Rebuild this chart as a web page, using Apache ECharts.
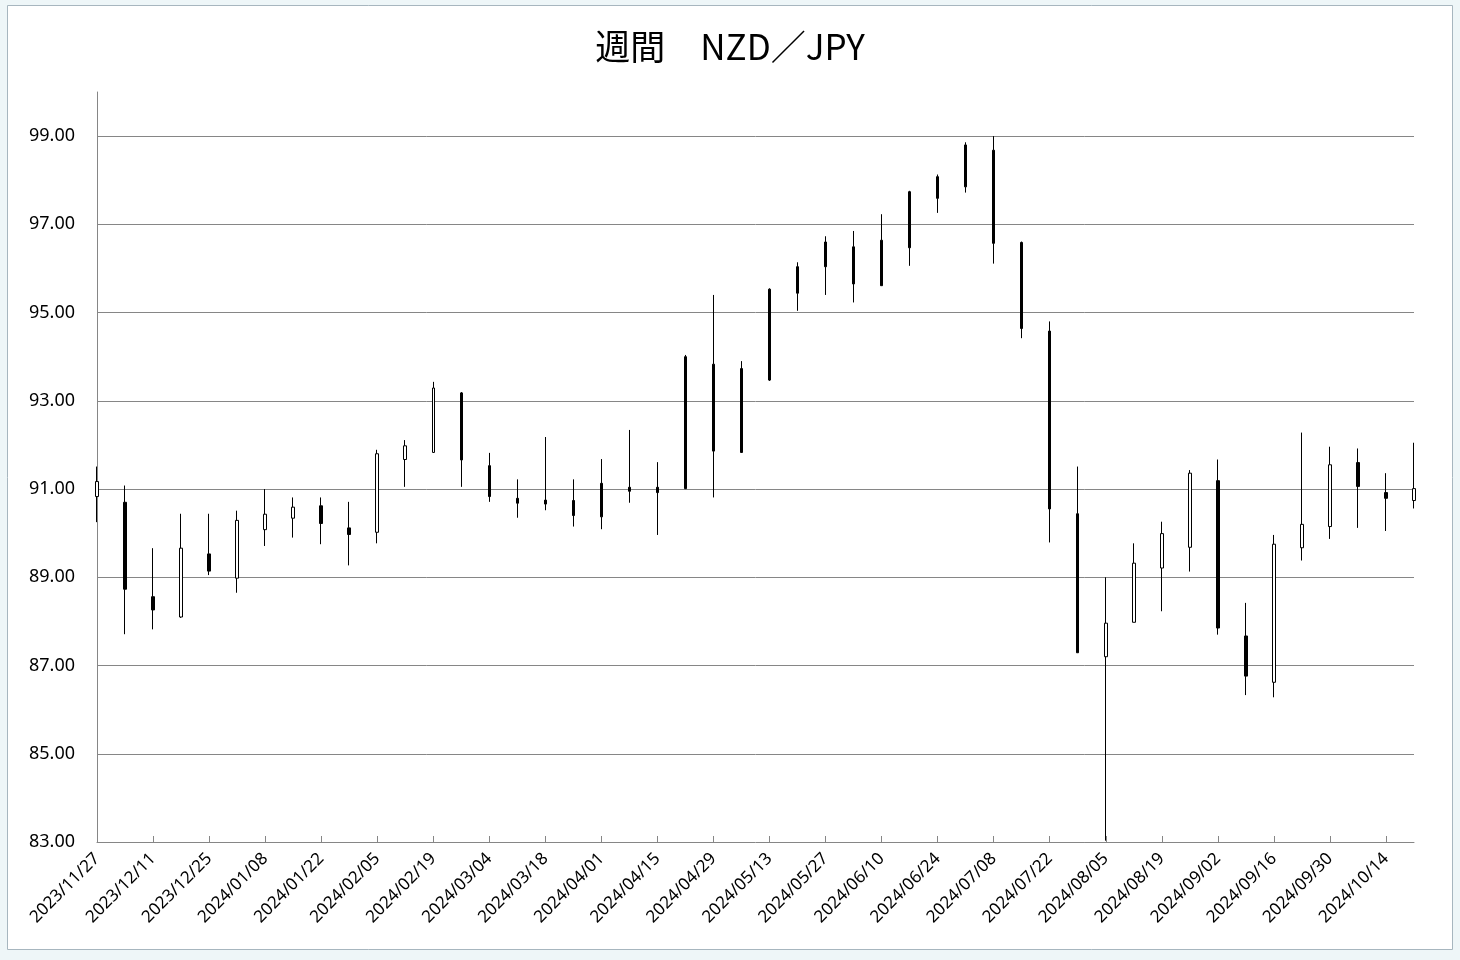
<!DOCTYPE html>
<html>
<head>
<meta charset="utf-8">
<script src="https://cdn.jsdelivr.net/npm/echarts@6/dist/echarts.min.js"></script>
<style>
html,body{margin:0;padding:0;background:#fff;}
#chart{width:1460px;height:960px;}
</style>
</head>
<body>
<div id="chart"></div>
<script>
// Weekly NZD/JPY candles (week start dates)
const categories = [
  '2023/11/27','2023/12/04','2023/12/11','2023/12/18','2023/12/25',
  '2024/01/01','2024/01/08','2024/01/15','2024/01/22','2024/01/29',
  '2024/02/05','2024/02/12','2024/02/19','2024/02/26','2024/03/04',
  '2024/03/11','2024/03/18','2024/03/25','2024/04/01','2024/04/08',
  '2024/04/15','2024/04/22','2024/04/29','2024/05/06','2024/05/13',
  '2024/05/20','2024/05/27','2024/06/03','2024/06/10','2024/06/17',
  '2024/06/24','2024/07/01','2024/07/08','2024/07/15','2024/07/22',
  '2024/07/29','2024/08/05','2024/08/12','2024/08/19','2024/08/26',
  '2024/09/02','2024/09/09','2024/09/16','2024/09/23','2024/09/30',
  '2024/10/07','2024/10/14','2024/10/21'
];
const openValues = [
  90.83, 90.70, 88.56, 88.10, 89.53, 88.98, 90.08, 90.34, 90.62, 90.12,
  90.02, 91.67, 91.83, 93.18, 91.53, 90.79, 90.75, 90.74, 90.37, 91.04,
  91.04, 91.01, 93.83, 91.83, 93.47, 95.44, 96.04, 96.49, 95.61, 96.47,
  97.59, 97.85, 98.68, 96.59, 94.58, 90.44, 87.20, 87.98, 89.21, 89.68,
  91.19, 87.67, 86.62, 89.67, 90.15, 91.60, 90.92, 90.74
];
const closeValues = [
  91.17, 88.73, 88.26, 89.66, 89.14, 90.29, 90.43, 90.59, 90.22, 89.97,
  91.80, 91.98, 93.29, 91.66, 90.83, 90.68, 90.66, 90.40, 91.13, 90.95,
  90.92, 94.00, 91.86, 93.73, 95.53, 96.04, 96.60, 95.65, 96.64, 97.74,
  98.08, 98.80, 96.57, 94.64, 90.55, 87.29, 87.96, 89.32, 89.99, 91.36,
  87.85, 86.76, 89.75, 90.20, 91.55, 91.06, 90.79, 91.01
];
const lowValues = [
  90.25, 87.71, 87.82, 88.08, 89.05, 88.65, 89.71, 89.90, 89.75, 89.27,
  89.77, 91.05, 91.82, 91.05, 90.71, 90.35, 90.52, 90.15, 90.09, 90.69,
  89.96, 91.00, 90.81, 91.82, 93.45, 95.04, 95.40, 95.23, 95.61, 96.06,
  97.26, 97.72, 96.11, 94.42, 89.79, 87.29, 83.03, 87.98, 88.23, 89.13,
  87.70, 86.33, 86.28, 89.38, 89.87, 90.12, 90.05, 90.56
];
const highValues = [
  91.51, 91.08, 89.66, 90.44, 90.44, 90.51, 91.00, 90.81, 90.81, 90.71,
  91.89, 92.11, 93.43, 93.20, 91.82, 91.22, 92.18, 91.22, 91.68, 92.34,
  91.61, 94.04, 95.40, 93.90, 95.55, 96.14, 96.73, 96.85, 97.23, 97.76,
  98.13, 98.86, 99.00, 96.61, 94.80, 91.51, 89.00, 89.77, 90.26, 91.43,
  91.67, 88.42, 89.96, 92.28, 91.96, 91.92, 91.36, 92.05
];
const yTicks = { min: 83, max: 100, step: 2 };

// style: weeks drawn as solid narrow bars in the reference (index range)
const solidFrom = 16, solidTo = 31;

const candleData = categories.map((c, i) => {
  const v = [openValues[i], closeValues[i], lowValues[i], highValues[i]];
  if (i >= solidFrom && i <= solidTo) {
    return { value: v, itemStyle: { color: '#000', color0: '#000' } };
  }
  return v;
});

const chart = echarts.init(document.getElementById('chart'), null, { renderer: 'canvas' });
const axisFont = "'Noto Sans', 'DejaVu Sans', sans-serif";
chart.setOption({
  backgroundColor: '#eef6f8',
  animation: false,
  graphic: [
    { type: 'rect', z: -10, shape: { x: 7.5, y: 5.5, width: 1445, height: 944 },
      style: { fill: '#ffffff', stroke: '#a7b6bf', lineWidth: 1 } }
  ],
  title: {
    text: '週間　NZD／JPY',
    left: 'center',
    top: 24,
    textStyle: {
      fontFamily: "'Noto Sans CJK JP', sans-serif",
      fontSize: 35,
      fontWeight: 'normal',
      color: '#000'
    }
  },
  grid: { left: 97, right: 46, top: 92, bottom: 118 },
  xAxis: {
    type: 'category',
    data: categories,
    boundaryGap: false,
    axisLine: { lineStyle: { color: '#868686', width: 1 } },
    axisTick: { show: true, inside: true, length: 6, interval: 1, lineStyle: { color: '#868686' } },
    axisLabel: {
      interval: 1,
      rotate: 45,
      margin: 14,
      color: '#000',
      fontFamily: axisFont,
      fontSize: 17
    },
    splitLine: { show: false }
  },
  yAxis: {
    type: 'value',
    min: yTicks.min,
    max: yTicks.max,
    interval: yTicks.step,
    axisLine: { show: true, lineStyle: { color: '#868686', width: 1 } },
    axisTick: { show: false },
    axisLabel: {
      showMaxLabel: false,
      margin: 22,
      color: '#000',
      fontFamily: axisFont,
      fontSize: 18,
      formatter: v => v.toFixed(2)
    },
    splitLine: { show: true, showMaxLine: false, showMinLine: false, lineStyle: { color: '#868686', width: 1 } }
  },
  series: [{
    type: 'candlestick',
    data: candleData,
    barWidth: 3,
    itemStyle: {
      color: '#ffffff',
      color0: '#000000',
      borderColor: '#000000',
      borderColor0: '#000000',
      borderWidth: 1
    }
  }]
});
</script>
</body>
</html>
